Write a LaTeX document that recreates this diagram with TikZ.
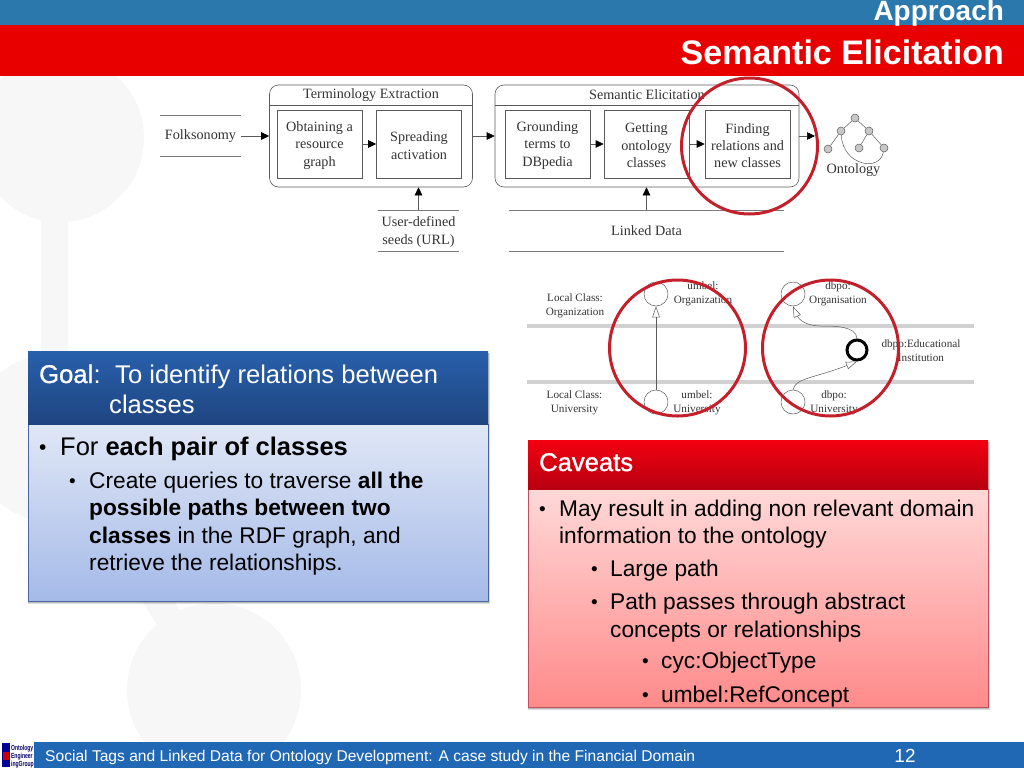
\documentclass[tikz,border=0pt]{standalone}
\usepackage{fontspec}
\setmainfont{Liberation Sans}
\newfontfamily\dgmfont{Liberation Serif}
\newfontfamily\fakefont[FakeBold=1.2]{Liberation Sans}
\usetikzlibrary{arrows.meta}
\definecolor{bggrey}{HTML}{F7F7F8}
\definecolor{topblue}{HTML}{2A78AC}
\definecolor{topred}{HTML}{E80000}
\definecolor{footblue}{HTML}{2168B4}
\definecolor{inkgrey}{HTML}{333333}
\definecolor{linegrey}{HTML}{5A5A5A}
\definecolor{markred}{HTML}{C4202C}
\definecolor{goalhi}{HTML}{2860AC}
\definecolor{goallo}{HTML}{1F4580}
\definecolor{goaltop}{HTML}{E0E7F6}
\definecolor{goalbot}{HTML}{A5BAE8}
\definecolor{goalline}{HTML}{4A66A0}
\definecolor{cavhi}{HTML}{F20010}
\definecolor{cavlo}{HTML}{B80010}
\definecolor{cavtop}{HTML}{FFD8D8}
\definecolor{cavbot}{HTML}{FF8A8A}
\definecolor{cavline}{HTML}{C05060}
\tikzset{
  dgm/.style={inner sep=0pt,align=center,text=inkgrey,font=\dgmfont\fontsize{14.2}{17.3}\selectfont},
  small/.style={inner sep=0pt,align=center,text=inkgrey,font=\dgmfont\fontsize{11.2}{13.8}\selectfont},
  inbox/.style={draw=linegrey,line width=.6pt,minimum width=85pt,minimum height=68pt,
    label={[dgm,yshift=-1.5pt]center:#1}},
  groupbox/.style={draw=linegrey,line width=.6pt,rounded corners=9pt,minimum height=102pt},
  store/.style={dgm,minimum width=81pt,minimum height=41pt},
  rule/.style={draw=linegrey!80,line width=.6pt},
  arr/.style={draw=linegrey,line width=.6pt,-{Triangle[length=8pt,width=7.5pt,black]}},
  opn/.style={draw=linegrey,line width=.5pt,-{Triangle[open,length=11pt,width=7.5pt]}},
  onto/.style={circle,draw=linegrey,fill=black!22,line width=.5pt,minimum size=8pt,inner sep=0pt},
  cls/.style={circle,draw=linegrey,line width=.5pt,minimum size=24pt,inner sep=0pt},
  redring/.style={circle,draw=markred,line width=3pt,inner sep=0pt},
  txta/.style={anchor=base west,inner sep=0pt,font=\fontsize{22.7}{24}\selectfont},
  blt/.style={anchor=base west,inner sep=0pt,font=\fontsize{19}{19}\selectfont},
  head/.style={anchor=base west,inner sep=0pt,text=white,font=\fontsize{25.6}{26}\selectfont},
  bar/.style={anchor=base east,inner sep=0pt,text=white,font=\bfseries},
  shadowbox/.style={fill=black,opacity=.14}
}
\begin{document}
\begin{tikzpicture}[x=1pt,y=-1pt]
\useasboundingbox (0,0) rectangle (1024,768);
% faint background
\fill[bggrey] (60,138) circle [radius=84pt];
\fill[bggrey] (41,200) rectangle (68,400);
\fill[bggrey] (55,438) circle [radius=85pt];
\fill[bggrey] (214,690) circle [radius=87pt];
\draw[bggrey,line width=27pt] (55,438) -- (214,690);
% title bars
\fill[topblue] (0,0) rectangle (1024,25);
\fill[topred] (0,25) rectangle (1024,76);
\node[bar,font=\bfseries\fontsize{27.9}{28}\selectfont] (approach) at (1004,21) {Approach};
\node[bar,font=\bfseries\fontsize{34}{34}\selectfont] (semtitle) at (1004,64) {Semantic Elicitation};
% footer
\fill[footblue] (0,742) rectangle (1024,768);
\fill[white] (0,742) rectangle (34,768);
\fill[blue!60!black] (2,743) rectangle (10,767);
\fill[red!80!black] (3,752) rectangle (9,760);
\node[anchor=base west,inner sep=0pt,text=blue!40!black,align=left,xscale=.68,
  font=\bfseries\fontsize{7.4}{7.6}\selectfont] (logo) at (11,766) {Ontology\\Engineer\\ingGroup};
\node[anchor=base west,inner sep=0pt,text=white,font=\fontsize{15.6}{16}\selectfont] (foot) at (45,761)
  {Social Tags and Linked Data for Ontology Development: A case study in the Financial Domain};
\node[anchor=base,inner sep=0pt,text=white,font=\fontsize{19}{19}\selectfont] (pageno) at (905,762) {12};
% workflow
\node[store] (folk) at (200.5,136) {Folksonomy};
\draw[rule] (folk.north west) -- (folk.north east) (folk.south west) -- (folk.south east);
\node[groupbox,minimum width=203pt] (termbox) at (371,136) {};
\node[dgm] (termtitle) at (371,95) {Terminology Extraction};
\draw[draw=linegrey,line width=.6pt] (269.5,105) -- (472.5,105);
\node[inbox={Obtaining a\\resource\\graph}] (resgraph) at (319.5,144) {};
\node[inbox={Spreading\\activation}] (spread) at (419,144) {};
\node[store,label={[dgm,yshift=-1.5pt]center:User-defined\\seeds (URL)}] (seeds) at (418.5,230.5) {};
\draw[rule] (seeds.north west) -- (seeds.north east) (seeds.south west) -- (seeds.south east);
\node[groupbox,minimum width=304pt] (sembox) at (647,136) {};
\node[dgm] (semlabel) at (647,95) {Semantic Elicitation};
\draw[draw=linegrey,line width=.6pt] (495,105) -- (799,105);
\node[inbox={Grounding\\terms to\\DBpedia}] (ground) at (547.5,144) {};
\node[inbox={Getting\\ontology\\classes}] (getcls) at (646.5,144) {};
\node[inbox={Finding\\relations and\\new classes}] (findrel) at (747.5,144) {};
\node[store,minimum width=275pt] (linked) at (646.5,230.5) {Linked Data};
\draw[rule] (linked.north west) -- (linked.north east) (linked.south west) -- (linked.south east);
\coordinate (outend) at (815,136);
\draw[arr] (folk.east) -- (termbox.west);
\draw[arr] (resgraph) -- (spread);
\draw[arr] (termbox) -- (sembox);
\draw[arr] (ground) -- (getcls);
\draw[arr] (getcls) -- (findrel);
\draw[arr] (sembox.east) -- (outend);
\draw[arr] (seeds.north) -- (seeds.north |- termbox.south);
\draw[arr] (linked.north) -- (linked.north |- sembox.south);
% small ontology
\node[onto] (ot) at (855,118) {};
\node[onto] (ol) at (841,131) {};
\node[onto] (or) at (869,131) {};
\node[onto] (oll) at (828,149) {};
\node[onto] (orm) at (859,148) {};
\node[onto] (orr) at (884,148) {};
\draw[linegrey,line width=.5pt] (ot) -- (ol) (ot) -- (or) (ol) -- (oll) (or) -- (orm) (or) -- (orr);
\draw[linegrey,line width=.5pt] (ol) .. controls (843,166) and (880,172) .. (orr);
\node[dgm] (ontolabel) at (853.5,170) {Ontology};
% mapping
\fill[black!18] (527,324) rectangle (974,328);
\fill[black!18] (527,380) rectangle (974,384);
\node[small] (locorg) at (575,306) {Local Class:\\Organization};
\node[small] (locuni) at (574.5,403) {Local Class:\\University};
\node[cls] (umorg) at (656,294) {};
\node[cls] (umuni) at (656,402) {};
\node[cls] (dborg) at (793,294) {};
\node[cls] (dbuni) at (793,402) {};
\node[circle,draw=black,line width=3pt,minimum size=20pt,inner sep=0pt] (dbedu) at (857,350) {};
\node[small] (umorgl) at (703,294) {umbel:\\Organization};
\node[small] (umunil) at (697,403) {umbel:\\University};
\node[small] (dborgl) at (838,294) {dbpo:\\Organisation};
\node[small] (dbunil) at (834,403) {dbpo:\\University};
\node[small] (dbedul) at (921,351) {dbpo:Educational\\Institution};
\draw[opn] (umuni) -- (umorg);
\draw[opn] (dbedu.north) .. controls (856,326) and (835,326) .. (820,326) .. controls (805,326) and (798,318) .. (dborg.south);
\draw[opn] (dbuni.north) .. controls (795,378) and (815,378) .. (dbedu.south);
% red marks
\node[redring,minimum size=136pt] (markfind) at (749.5,146) {};
\node[redring,minimum size=136pt] (markumb) at (677.5,348) {};
\node[redring,minimum size=136pt] (markdbp) at (830.5,348) {};
% goal box
\fill[shadowbox] (28,353) rectangle (490,604);
\fill[shadowbox] (28,353) rectangle (489,603);
\shade[top color=goaltop,bottom color=goalbot] (28,424) rectangle (488,601);
\draw[goalline,line width=.7pt] (28,424) rectangle (488,601);
\shade[top color=goalhi,bottom color=goallo] (28,351) rectangle (488,424);
\node[head,font=\fakefont\fontsize{25.6}{26}\selectfont] (goalword) at (39,383) {Goal};
\node[head] (goalcolon) at (goalword.base east) {:};
\node[head] (goaltxt) at (115,383) {To identify relations between};
\node[head] (goaltxtb) at (109,413) {classes};
\node[blt,font=\fontsize{21}{21}\selectfont] (gb) at (39,454) {•};
\node[txta,font=\fontsize{25.5}{26}\selectfont] (gl) at (60,455) {For \textbf{each pair of classes}};
\node[blt] (gc) at (69,487) {•};
\node[txta] (gla) at (89,488) {Create queries to traverse \textbf{all the}};
\node[txta] (glb) at (89,515) {\textbf{possible paths between two}};
\node[txta] (glc) at (89,543) {\textbf{classes} in the RDF graph, and};
\node[txta] (gld) at (89,570) {retrieve the relationships.};
% caveats box
\fill[shadowbox] (528,442) rectangle (990,710);
\fill[shadowbox] (528,442) rectangle (989,709);
\shade[top color=cavtop,bottom color=cavbot] (528,489) rectangle (988,707);
\draw[cavline,line width=.5pt] (528,489) rectangle (988,707);
\shade[top color=cavhi,bottom color=cavlo] (528,440) rectangle (988,489);
\node[head,font=\fakefont\fontsize{25.6}{26}\selectfont] (caveats) at (539,471) {Caveats};
\node[blt] (cb) at (539,515) {•};
\node[txta] (cla) at (559,516) {May result in adding non relevant domain};
\node[txta] (clb) at (559,543) {information to the ontology};
\node[blt] (cc) at (591,575) {•};
\node[txta] (clc) at (610,576) {Large path};
\node[blt] (cd) at (591,608) {•};
\node[txta] (cld) at (610,609) {Path passes through abstract};
\node[txta] (cle) at (610,637) {concepts or relationships};
\node[blt] (ce) at (642,667) {•};
\node[txta] (clf) at (661,668) {cyc:ObjectType};
\node[blt] (cf) at (642,701) {•};
\node[txta] (clg) at (661,702) {umbel:RefConcept};
\end{tikzpicture}
\end{document}
